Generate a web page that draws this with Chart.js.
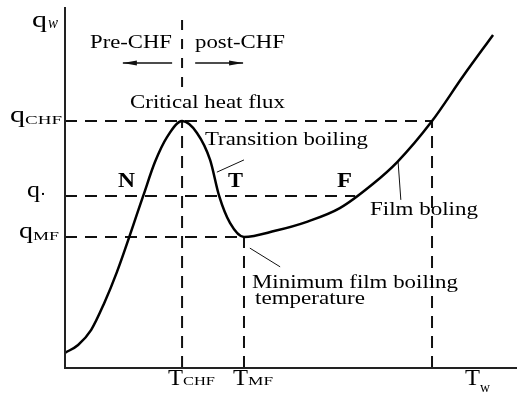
<!DOCTYPE html>
<html lang="en">
<head>
<meta charset="UTF-8">
<title>Boiling curve</title>
<script src="https://cdn.jsdelivr.net/npm/chart.js"></script>
<style>
    body { margin: 0; padding: 0; background: #fff; }
    canvas { display: block; }
</style>
</head>
<body>
<canvas id="boilingChart" width="517" height="404"></canvas>
<script>
    // boiling curve, wall temperature (0-100) vs heat flux (0-100)
    const curveT = [0, 2.9, 5.8, 8.6, 11.5, 17.3, 19.9, 22.6, 25.9, 29.2, 32.1, 34.1, 36.5, 39.6, 46.5, 53.5, 60.8, 68.1, 73.5, 81.2, 88.1, 94.7];
    const curveQ = [4.2, 6.4, 10.6, 17.8, 26.7, 47.8, 57.2, 64.2, 68.6, 65.3, 57.8, 47.8, 40.3, 36.4, 38.1, 40.6, 44.4, 51.1, 57.2, 68.6, 81.1, 92.5];

    // reference levels: q_CHF, q., q_MF and where their dashed lines stop
    const refQ = [68.6, 47.8, 36.4];
    const refQEnd = [81.2, 64.2, 39.6];
    // reference temperatures: T_CHF, T_MF, film branch at q_CHF
    const refT = [25.9, 39.6, 81.2];
    const refTTop = [68.6, 36.4, 68.6];

    // Pre-CHF / post-CHF divider above the peak and arrows
    const dividerQ = [77.8, 96.7];
    const arrowQ = 84.7;
    const arrowLeftT = [23.7, 12.8];
    const arrowRightT = [28.8, 39.4];

    // leader lines from labels to curve
    const leaderTransition = [[33.6, 54.4], [39.6, 57.8]];
    const leaderFilm = [[73.7, 57.2], [74.3, 46.7]];
    const leaderMinimum = [[40.9, 33.3], [47.6, 28.1]];

    const SERIF = '"Liberation Serif", "Times New Roman", serif';

    function seg(pts, opts) {
        return Object.assign({
            data: pts.map(p => ({ x: p[0], y: p[1] })),
            borderColor: '#111',
            borderWidth: 2,
            pointRadius: 0,
            fill: false,
            tension: 0,
            borderDash: [12, 8]
        }, opts || {});
    }

    const datasets = [];
    datasets.push({
        data: curveT.map((t, i) => ({ x: t, y: curveQ[i] })),
        borderColor: '#000',
        borderWidth: 2.5,
        pointRadius: 0,
        fill: false,
        cubicInterpolationMode: 'monotone'
    });
    refQ.forEach((q, i) => datasets.push(seg([[0, q], [refQEnd[i], q]])));
    refT.forEach((t, i) => datasets.push(seg([[t, 0], [t, refTTop[i]]])));
    datasets.push(seg([[refT[0], dividerQ[1]], [refT[0], dividerQ[0]]], { borderDash: [10, 9] }));
    datasets.push(seg([[arrowLeftT[0], arrowQ], [arrowLeftT[1], arrowQ]], { borderDash: [], borderWidth: 1.5 }));
    datasets.push(seg([[arrowRightT[0], arrowQ], [arrowRightT[1], arrowQ]], { borderDash: [], borderWidth: 1.5 }));
    [leaderTransition, leaderFilm, leaderMinimum].forEach(l => datasets.push(seg(l, { borderDash: [], borderWidth: 1 })));

    function fitText(ctx, str, x, y, font, width) {
        ctx.font = font;
        const m = ctx.measureText(str).width;
        ctx.save();
        ctx.translate(x, y);
        ctx.scale(width / m, 1);
        ctx.fillText(str, 0, 0);
        ctx.restore();
    }

    const annotations = {
        id: 'annotations',
        afterDatasetsDraw(chart) {
            const ctx = chart.ctx;
            const xs = chart.scales.x, ys = chart.scales.y;
            const px = v => xs.getPixelForValue(v);
            const py = v => ys.getPixelForValue(v);

            // axes
            ctx.save();
            ctx.strokeStyle = '#222';
            ctx.lineWidth = 2;
            ctx.beginPath();
            ctx.moveTo(px(0), py(100.3));
            ctx.lineTo(px(0), py(0));
            ctx.lineTo(px(100), py(0));
            ctx.stroke();

            // arrow heads
            ctx.fillStyle = '#111';
            const head = (tip, dir) => {
                ctx.beginPath();
                ctx.moveTo(px(tip), py(arrowQ));
                ctx.lineTo(px(tip) - dir * 14, py(arrowQ) - 2.5);
                ctx.lineTo(px(tip) - dir * 14, py(arrowQ) + 2.5);
                ctx.closePath();
                ctx.fill();
            };
            head(arrowLeftT[1], -1);
            head(arrowRightT[1], 1);

            ctx.fillStyle = '#000';
            ctx.textBaseline = 'alphabetic';
            ctx.textAlign = 'left';
            const body = '18px ' + SERIF;
            const bold = 'bold 20px ' + SERIF;
            fitText(ctx, 'Pre-CHF', 90, 48, body, 82);
            fitText(ctx, 'post-CHF', 195, 48, body, 90);
            fitText(ctx, 'Critical heat flux', 130, 108, body, 155);
            fitText(ctx, 'Transition boiling', 205, 145, body, 163);
            fitText(ctx, 'Film boling', 370, 215, body, 108);
            fitText(ctx, 'Minimum film boiling', 252, 288, body, 206);
            fitText(ctx, 'temperature', 255, 304, body, 110);
            fitText(ctx, 'N', 118, 187, bold, 17);
            fitText(ctx, 'T', 228, 187, bold, 15);
            fitText(ctx, 'F', 337, 187, bold, 15);

            // axis symbols
            const big = '23px ' + SERIF;
            const sub = '12px ' + SERIF;
            fitText(ctx, 'q', 32, 27, big, 15);
            fitText(ctx, 'w', 48, 28, 'italic 17px ' + SERIF, 10);
            const qb = refQ.map(q => py(q) + 1);
            fitText(ctx, 'q', 10, qb[0], big, 15);
            fitText(ctx, 'CHF', 25, qb[0] + 2, sub, 37);
            fitText(ctx, 'q', 27, qb[1], big, 13);
            ctx.fillRect(42, qb[1] - 4, 2, 2);
            fitText(ctx, 'q', 19, qb[2], big, 14);
            fitText(ctx, 'MF', 33, qb[2] + 2, sub, 26);

            fitText(ctx, 'T', 168, 385, big, 15);
            fitText(ctx, 'CHF', 183, 385, sub, 32);
            fitText(ctx, 'T', 233, 385, big, 15);
            fitText(ctx, 'MF', 248, 385, sub, 25);
            fitText(ctx, 'T', 465, 385, big, 15);
            fitText(ctx, 'w', 480, 392, '15px ' + SERIF, 10);
            ctx.restore();
        }
    };

    new Chart(document.getElementById('boilingChart').getContext('2d'), {
        type: 'line',
        data: { datasets: datasets },
        options: {
            responsive: false,
            devicePixelRatio: 1,
            animation: false,
            layout: { padding: { left: 65, right: 0, top: 8, bottom: 36 } },
            plugins: { legend: { display: false }, tooltip: { enabled: false } },
            scales: {
                x: { type: 'linear', min: 0, max: 100, display: false },
                y: { type: 'linear', min: 0, max: 100, display: false }
            }
        },
        plugins: [annotations]
    });
</script>
</body>
</html>
